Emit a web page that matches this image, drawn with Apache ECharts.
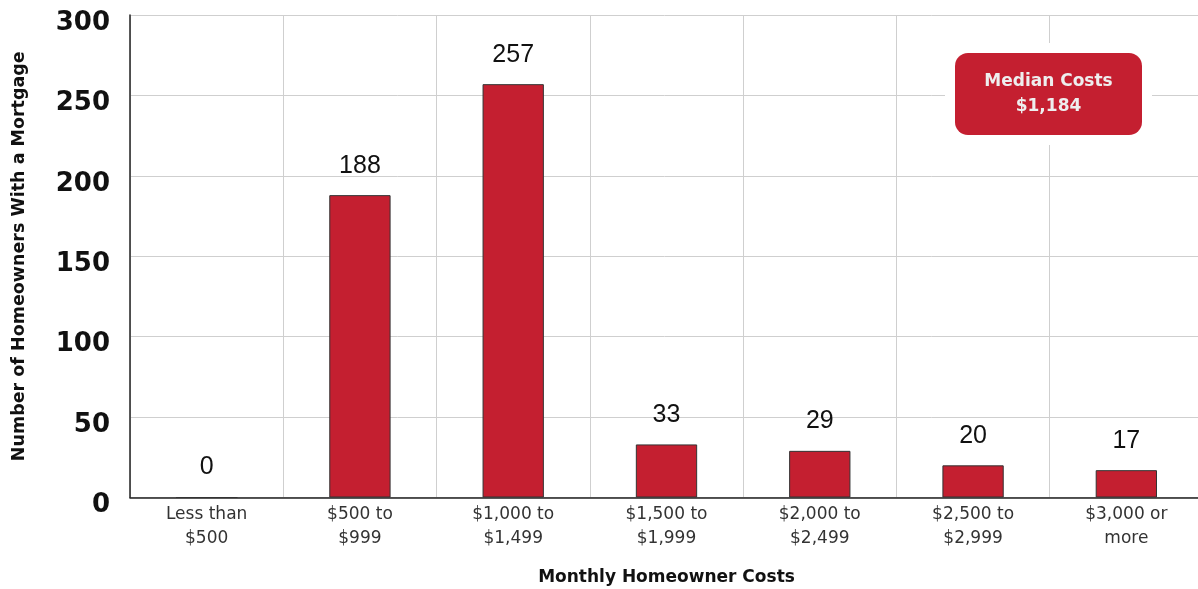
<!DOCTYPE html>
<html>
<head>
<meta charset="utf-8">
<script src="https://cdn.jsdelivr.net/npm/echarts@6/dist/echarts.min.js"></script>
<style>
  html, body { margin: 0; padding: 0; background: #fff; }
  #chart { width: 1198px; height: 589px; }
</style>
</head>
<body>
<div id="chart"></div>
<script>
// Monthly homeowner cost brackets (x axis)
const categories = [
  'Less than\n$500', '$500 to\n$999', '$1,000 to\n$1,499', '$1,500 to\n$1,999',
  '$2,000 to\n$2,499', '$2,500 to\n$2,999', '$3,000 or\nmore'
];
// Number of homeowners with a mortgage in each bracket
const homeowners = [0, 188, 257, 33, 29, 20, 17];
// Median annotation text
const medianLines = ['Median Costs', '$1,184'];

const SANS = '"Liberation Sans", Arial, sans-serif';
const WIDE = '"DejaVu Sans", sans-serif';
const RED = '#C41F30';

const chart = echarts.init(document.getElementById('chart'));
chart.setOption({
  animation: false,
  textStyle: { fontFamily: SANS },
  grid: {
    left: 130, top: 15, width: 1073, bottom: 91.5,
    containLabel: false, outerBoundsMode: 'none'
  },
  xAxis: {
    type: 'category',
    data: categories,
    boundaryGap: true,
    name: 'Monthly Homeowner Costs',
    nameLocation: 'middle',
    nameGap: 72,
    nameTextStyle: { fontFamily: WIDE, fontSize: 17, fontWeight: 'bold', color: '#111' },
    axisLine: { lineStyle: { color: '#222', width: 1.5 } },
    axisTick: { show: false },
    axisLabel: { fontFamily: WIDE, fontSize: 17, color: '#333', lineHeight: 24, margin: 5, interval: 0 },
    splitLine: { show: true, interval: 0, lineStyle: { color: '#cfcfcf', width: 1 } }
  },
  yAxis: {
    type: 'value',
    min: 0,
    max: 300,
    interval: 50,
    name: 'Number of Homeowners With a Mortgage',
    nameLocation: 'middle',
    nameGap: 102,
    nameRotate: 90,
    nameTextStyle: { fontFamily: WIDE, fontSize: 17.5, fontWeight: 'bold', color: '#111' },
    axisLine: { show: true, lineStyle: { color: '#222', width: 1.5 } },
    axisTick: { show: false },
    axisLabel: {
      fontFamily: WIDE, fontSize: 26, fontWeight: 'bold', color: '#111',
      margin: 20, verticalAlign: 'top', lineHeight: 16
    },
    splitLine: { show: true, lineStyle: { color: '#cfcfcf', width: 1 } }
  },
  series: [{
    type: 'bar',
    data: homeowners,
    barWidth: '40%',
    itemStyle: { color: RED, borderColor: '#333', borderWidth: 1 },
    label: {
      show: true,
      position: 'top',
      distance: 17,
      fontFamily: SANS,
      fontSize: 25,
      color: '#111'
    }
  }],
  graphic: [{
    type: 'group',
    left: 945,
    top: 43,
    z: 100,
    children: [
      // white halo that clears the grid lines around the badge
      { type: 'rect', z: 100, shape: { x: 0, y: 0, width: 207, height: 102 }, style: { fill: '#fff' } },
      { type: 'rect', z: 101, shape: { x: 10, y: 10, width: 187, height: 82, r: 13 }, style: { fill: RED } },
      {
        type: 'text',
        z: 102,
        x: 103.5, y: 51,
        style: {
          text: medianLines.join('\n'),
          fill: '#eeeeee',
          font: 'bold 17px ' + WIDE,
          lineHeight: 25,
          align: 'center',
          verticalAlign: 'middle'
        }
      }
    ]
  }]
});
</script>
</body>
</html>
